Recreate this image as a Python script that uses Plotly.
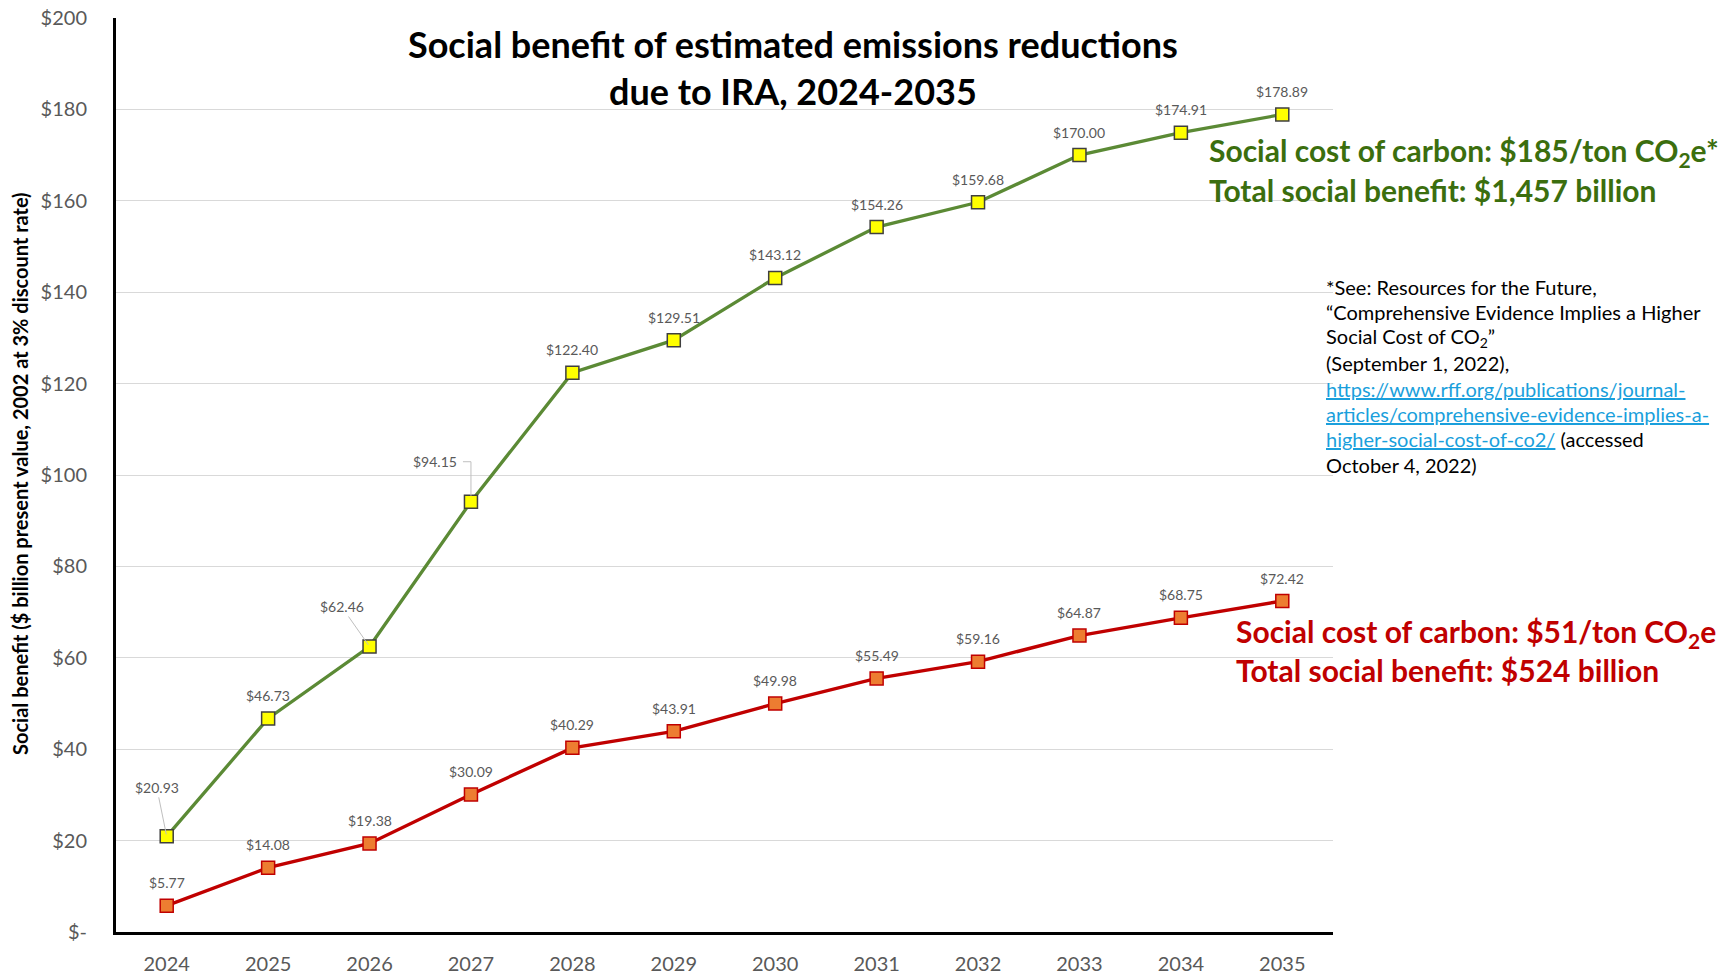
import plotly.graph_objects as go

# ---- data -------------------------------------------------------------
years = ["2024", "2025", "2026", "2027", "2028", "2029",
         "2030", "2031", "2032", "2033", "2034", "2035"]
benefit_185 = [20.93, 46.73, 62.46, 94.15, 122.40, 129.51,
               143.12, 154.26, 159.68, 170.00, 174.91, 178.89]
benefit_51 = [5.77, 14.08, 19.38, 30.09, 40.29, 43.91,
              49.98, 55.49, 59.16, 64.87, 68.75, 72.42]
y_tick_vals = [0, 20, 40, 60, 80, 100, 120, 140, 160, 180, 200]
y_tick_text = ["$-", "$20", "$40", "$60", "$80", "$100", "$120",
               "$140", "$160", "$180", "$200"]

# ---- page geometry -----------------------------------------------------
W, H = 1720, 975
ML, MR, MT, MB = 116, 387, 18, 43
PW, PH = W - ML - MR, H - MT - MB


def px_x(px):
    return (px - ML) / PW


def px_y(py):
    return (H - MB - py) / PH


FONT = "Lato, 'Open Sans', sans-serif"
GREEN_LINE = "#5b8a35"
GREEN_TEXT = "#3b6e0e"
RED = "#c00000"
ORANGE = "#ed7d31"
LABEL_GREY = "#595959"

fig = go.Figure()

fig.add_trace(go.Scatter(
    x=years, y=benefit_185, mode="lines+markers",
    line=dict(color=GREEN_LINE, width=3.3),
    marker=dict(symbol="square", size=13, color="#ffff00",
                line=dict(color="#3f3f3f", width=1.5)),
    showlegend=False, hoverinfo="x+y",
))
fig.add_trace(go.Scatter(
    x=years, y=benefit_51, mode="lines+markers",
    line=dict(color=RED, width=3.4),
    marker=dict(symbol="square", size=13, color=ORANGE,
                line=dict(color=RED, width=1.5)),
    showlegend=False, hoverinfo="x+y",
))

annotations = []
shapes = []
label_font = dict(family=FONT, size=14, color=LABEL_GREY)

# value labels above each point; a few green labels sit off to the side
# with a thin grey leader line
offset_labels = {"2024": (-10, -49), "2026": (-28, -40)}
for i, (yr, v) in enumerate(zip(years, benefit_185)):
    txt = f"${v:,.2f}"
    if yr in offset_labels:
        ax, ay = offset_labels[yr]
        annotations.append(dict(
            x=i, y=v, xref="x", yref="y", text=txt, font=label_font,
            showarrow=True, arrowhead=0, arrowwidth=1, arrowcolor="#bfbfbf",
            ax=ax, ay=ay, standoff=2))
    elif yr == "2027":
        annotations.append(dict(
            x=i, y=v, xref="x", yref="y", text=txt, font=label_font,
            showarrow=False, xshift=-36, yshift=40))
        shapes.append(dict(
            type="path", xref="x", yref="y",
            xsizemode="pixel", ysizemode="pixel",
            xanchor=i, yanchor=v,
            path="M -8,40 L 0,40 L 0,6",
            line=dict(color="#bfbfbf", width=1)))
    else:
        annotations.append(dict(
            x=i, y=v, xref="x", yref="y", text=txt, font=label_font,
            showarrow=False, yshift=23))

for i, v in enumerate(benefit_51):
    annotations.append(dict(
        x=i, y=v, xref="x", yref="y", text=f"${v:,.2f}", font=label_font,
        showarrow=False, yshift=23))

# chart title
annotations.append(dict(
    xref="paper", yref="paper", x=px_x(793), y=px_y(67.5),
    text="<b>Social benefit of estimated emissions reductions<br>"
         "due to IRA, 2024-2035</b>",
    font=dict(family=FONT, size=36, color="black"),
    showarrow=False, xanchor="center", yanchor="middle"))

# y-axis title
annotations.append(dict(
    xref="paper", yref="paper", x=px_x(20), y=px_y(474),
    text="<b>Social benefit ($ billion present value, 2002 at 3% discount rate)</b>",
    font=dict(family=FONT, size=20, color="black"),
    textangle=-90, showarrow=False, xanchor="center", yanchor="middle"))

# series call-outs
callouts = [
    ("<b>Social cost of carbon: $185/ton CO<sub>2</sub>e*</b>", 1207, 152, GREEN_TEXT),
    ("<b>Total social benefit: $1,457 billion</b>", 1207, 190, GREEN_TEXT),
    ("<b>Social cost of carbon: $51/ton CO<sub>2</sub>e</b>", 1234, 633, RED),
    ("<b>Total social benefit: $524 billion</b>", 1234, 670, RED),
]
for txt, x0, y0, col in callouts:
    annotations.append(dict(
        xref="paper", yref="paper", x=px_x(x0), y=px_y(y0), text=txt,
        font=dict(family=FONT, size=30, color=col),
        showarrow=False, xanchor="left", yanchor="middle"))

# source footnote
URL = ("https://www.rff.org/publications/journal-articles/"
       "comprehensive-evidence-implies-a-higher-social-cost-of-co2/")
LINK = '<a href="%s"><span style="color:#1a9fdc;text-decoration:underline">%s</span></a>'
foot_lines = [
    "*See: Resources for the Future,",
    "\u201cComprehensive Evidence Implies a Higher",
    "Social Cost of CO<sub>2</sub>\u201d",
    "(September 1, 2022),",
    LINK % (URL, "https://www.rff.org/publications/journal-"),
    LINK % (URL, "articles/comprehensive-evidence-implies-a-"),
    LINK % (URL, "higher-social-cost-of-co2/") + " (accessed",
    "October 4, 2022)",
]
for i, line in enumerate(foot_lines):
    annotations.append(dict(
        xref="paper", yref="paper", x=px_x(1324), y=px_y(287 + 25.4 * i),
        text=line, font=dict(family=FONT, size=20, color="black"),
        showarrow=False, xanchor="left", yanchor="middle"))

fig.update_layout(
    width=W, height=H,
    margin=dict(l=ML, r=MR, t=MT, b=MB, autoexpand=False),
    paper_bgcolor="white", plot_bgcolor="white",
    annotations=annotations, shapes=shapes,
    showlegend=False,
    font=dict(family=FONT),
)
fig.update_xaxes(
    type="category", range=[-0.5, 11.5], automargin=False,
    showline=True, linecolor="black", linewidth=3,
    showgrid=False, zeroline=False, ticks="",
    tickfont=dict(family=FONT, size=20, color=LABEL_GREY),
    ticklabelstandoff=12,
)
fig.update_yaxes(
    range=[0, 200], tickvals=y_tick_vals, ticktext=y_tick_text,
    automargin=False,
    showline=True, linecolor="black", linewidth=3,
    showgrid=True, gridcolor="#d9d9d9", gridwidth=1, zeroline=False,
    ticks="", tickfont=dict(family=FONT, size=20, color=LABEL_GREY),
    ticklabelstandoff=22,
)

fig.write_html("out.html")
